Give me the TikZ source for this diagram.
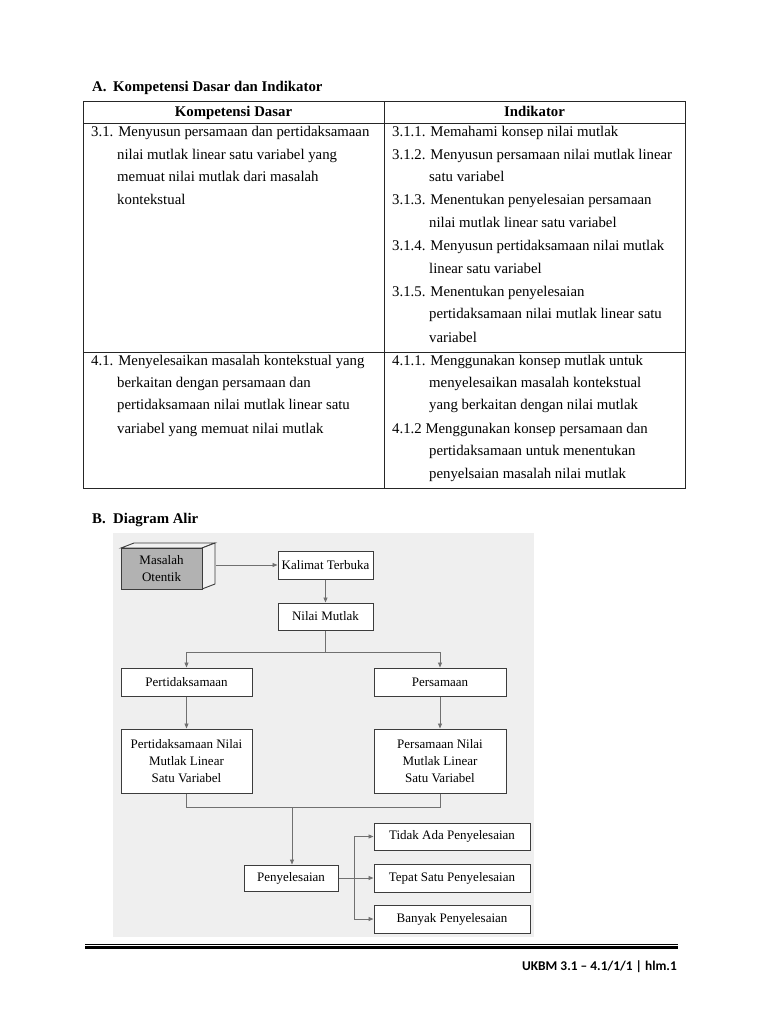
\documentclass[tikz,border=0pt]{standalone}
\usepackage{fontspec}
\setmainfont{Liberation Serif}
\newfontfamily\footfont{Carlito}
\usetikzlibrary{arrows.meta,calc}
\definecolor{panel}{HTML}{EFEFEF}
\definecolor{conn}{HTML}{707070}
\definecolor{boxline}{HTML}{3C3C3C}
\definecolor{frontgray}{HTML}{B2B2B2}
\tikzset{
  tl/.style={anchor=base west,inner sep=0pt,font=\fontsize{14.8}{17}\selectfont},
  th/.style={anchor=base,inner sep=0pt,font=\fontsize{14.8}{17}\selectfont\bfseries},
  flowbox/.style={draw=boxline,line width=1pt,fill=white,inner sep=1pt,align=center,
    font=\fontsize{13}{17}\selectfont},
  conline/.style={draw=conn,line width=0.9pt},
  conarrow/.style={draw=conn,line width=0.9pt,-{Triangle[length=5pt,width=4pt,fill=conn]}},
}
\begin{document}
\begin{tikzpicture}[x=1pt,y=-1pt]
\useasboundingbox[fill=white] (0,0) rectangle (768,1024);

% ---------- Section A ----------
\node[th,anchor=base west] (ha) at (92,92) {A.};
\node[th,anchor=base west] (hat) at (113,92) {Kompetensi Dasar dan Indikator};

% table frame
\draw[line width=1pt,black!85] (83,102) rectangle (685,488);
\draw[line width=1pt,black!85] (83,124) -- (685,124);
\draw[line width=1pt,black!85] (83,352) -- (685,352);
\draw[line width=1pt,black!85] (384,102) -- (384,488);

\node[th] (hk) at (233.5,117) {Kompetensi Dasar};
\node[th] (hi) at (534.5,117) {Indikator};

% row 1 left
\node[tl] (l11) at (91,137) {3.1. Menyusun persamaan dan pertidaksamaan};
\node[tl] (l12) at (117,160) {nilai mutlak linear satu variabel yang};
\node[tl] (l13) at (117,182) {memuat nilai mutlak dari masalah};
\node[tl] (l14) at (117,205) {kontekstual};
% row 1 right
\node[tl] (r11) at (392,137) {3.1.1. Memahami konsep nilai mutlak};
\node[tl] (r12) at (392,160) {3.1.2. Menyusun persamaan nilai mutlak linear};
\node[tl] (r13) at (429,182) {satu variabel};
\node[tl] (r14) at (392,205) {3.1.3. Menentukan penyelesaian persamaan};
\node[tl] (r15) at (429,228) {nilai mutlak linear satu variabel};
\node[tl] (r16) at (392,251) {3.1.4. Menyusun pertidaksamaan nilai mutlak};
\node[tl] (r17) at (429,273) {linear satu variabel};
\node[tl] (r18) at (392,296) {3.1.5. Menentukan penyelesaian};
\node[tl] (r19) at (429,318) {pertidaksamaan nilai mutlak linear satu};
\node[tl] (r110) at (429,342) {variabel};
% row 2 left
\node[tl] (l21) at (91,365) {4.1. Menyelesaikan masalah kontekstual yang};
\node[tl] (l22) at (117,387) {berkaitan dengan persamaan dan};
\node[tl] (l23) at (117,409) {pertidaksamaan nilai mutlak linear satu};
\node[tl] (l24) at (117,433) {variabel yang memuat nilai mutlak};
% row 2 right
\node[tl] (r21) at (392,365) {4.1.1. Menggunakan konsep mutlak untuk};
\node[tl] (r22) at (429,387) {menyelesaikan masalah kontekstual};
\node[tl] (r23) at (429,409) {yang berkaitan dengan nilai mutlak};
\node[tl] (r24) at (392,433) {4.1.2 Menggunakan konsep persamaan dan};
\node[tl] (r25) at (429,455) {pertidaksamaan untuk menentukan};
\node[tl] (r26) at (429,478) {penyelsaian masalah nilai mutlak};

% ---------- Section B ----------
\node[th,anchor=base west] (hb) at (92,523) {B.};
\node[th,anchor=base west] (hbt) at (113,523) {Diagram Alir};

% panel
\fill[panel] (113,533) rectangle (534,937);

% Masalah Otentik 3D box
\filldraw[fill=white!95!black,draw=boxline,line width=0.9pt] (121,548) -- (134,543) -- (215,543) -- (202,548) -- cycle;
\filldraw[fill=white!95!black,draw=boxline,line width=0.9pt] (202,548) -- (215,543) -- (215,584) -- (202,589) -- cycle;
\node[draw=boxline,line width=1pt,fill=frontgray,minimum width=81pt,minimum height=41pt,inner sep=0pt,align=center,
  font=\fontsize{13}{17.5}\selectfont] (mo) at (161.5,568.5) {Masalah\\Otentik};

\node[flowbox,minimum width=95pt,minimum height=28pt] (kt) at (325.5,565) {Kalimat Terbuka};
\node[flowbox,minimum width=95pt,minimum height=27pt] (nm) at (325.5,616.5) {Nilai Mutlak};
\node[flowbox,minimum width=131pt,minimum height=28pt] (pt) at (186.5,682) {Pertidaksamaan};
\node[flowbox,minimum width=132pt,minimum height=28pt] (ps) at (440,682) {Persamaan};
\node[flowbox,minimum width=131pt,minimum height=64pt] (ptn) at (186.5,761) {Pertidaksamaan Nilai\\Mutlak Linear\\Satu Variabel};
\node[flowbox,minimum width=132pt,minimum height=64pt] (psn) at (440,761) {Persamaan Nilai\\Mutlak Linear\\Satu Variabel};
\node[flowbox,minimum width=94pt,minimum height=26pt] (py) at (291,878) {Penyelesaian};
\node[flowbox,minimum width=156pt,minimum height=27pt] (ta) at (452,836.5) {Tidak Ada Penyelesaian};
\node[flowbox,minimum width=156pt,minimum height=28pt] (tp) at (452,878) {Tepat Satu Penyelesaian};
\node[flowbox,minimum width=156pt,minimum height=28pt] (bp) at (452,919) {Banyak Penyelesaian};

\coordinate (j1) at (325.5,652);
\coordinate (j2) at (292,807);
\coordinate (j3) at (354,878);

\draw[conarrow] ($(mo.east |- kt.west)+(13,0)$) -- (kt.west);
\draw[conarrow] (kt.south) -- (nm.north);
\draw[conline] (nm.south) -- (j1);
\draw[conarrow] (j1) -| (pt.north);
\draw[conarrow] (j1) -| (ps.north);
\draw[conarrow] (pt.south) -- (ptn.north);
\draw[conarrow] (ps.south) -- (psn.north);
\draw[conline] (ptn.south) |- (j2);
\draw[conline] (psn.south) |- (j2);
\draw[conarrow] (j2) -- (j2 |- py.north);
\draw[conarrow] (py.east) -- (tp.west);
\draw[conarrow] (j3) |- (ta.west);
\draw[conarrow] (j3) |- (bp.west);

% ---------- footer ----------
\coordinate (fl) at (85,944);
\coordinate (fr) at (678,944);
\draw[line width=0.8pt,black] (fl) -- (fr);
\draw[line width=2.6pt,black] ([yshift=-3.6pt]fl) -- ([yshift=-3.6pt]fr);
\node[anchor=base east,inner sep=0pt,font=\footfont\bfseries\fontsize{13.4}{16}\selectfont] (ft) at (677,970) {UKBM 3.1 – 4.1/1/1 | hlm.1};
\end{tikzpicture}
\end{document}
